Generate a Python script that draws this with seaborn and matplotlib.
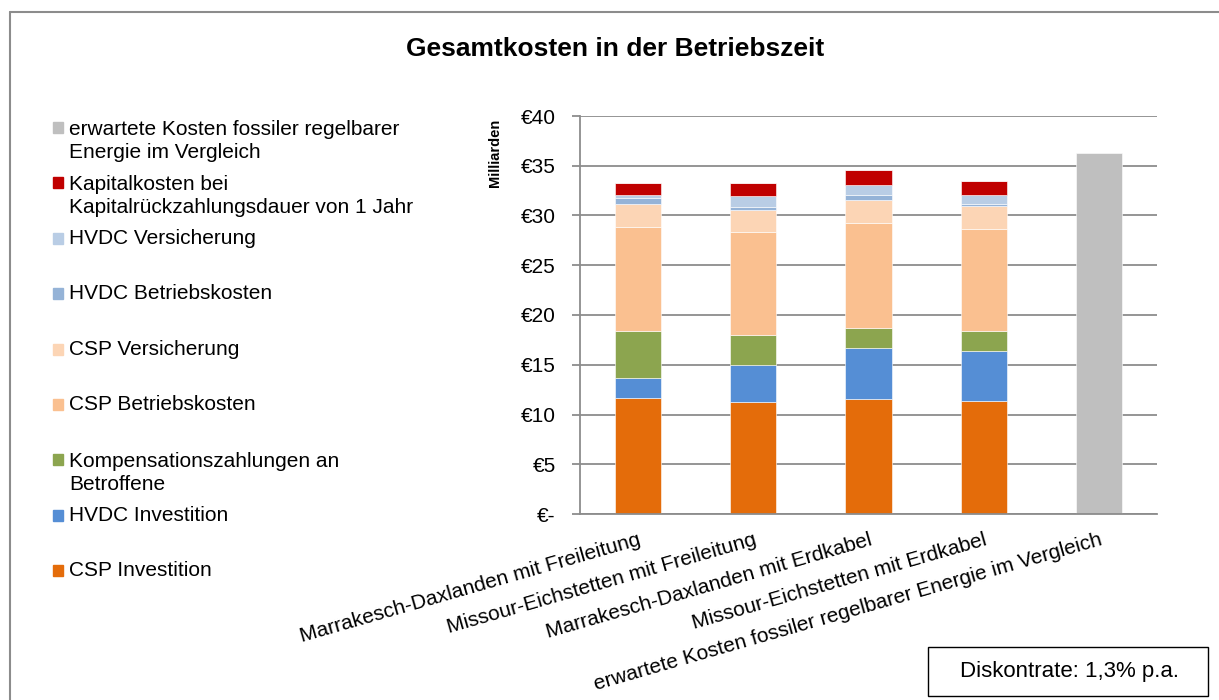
import numpy as np
import pandas as pd
import matplotlib.pyplot as plt
from matplotlib.lines import Line2D
from matplotlib.patches import Rectangle
import seaborn as sns

# categories on the x axis
categories = [
    "Marrakesch-Daxlanden mit Freileitung",
    "Missour-Eichstetten mit Freileitung",
    "Marrakesch-Daxlanden mit Erdkabel",
    "Missour-Eichstetten mit Erdkabel",
    "erwartete Kosten fossiler regelbarer Energie im Vergleich",
]

# cost components in Mrd. EUR (bottom -> top of the stack)
csp_investition = [11.7, 11.3, 11.6, 11.4, 0]
hvdc_investition = [2.0, 3.7, 5.1, 4.95, 0]
kompensation = [4.7, 3.0, 2.0, 2.05, 0]
csp_betrieb = [10.45, 10.35, 10.55, 10.25, 0]
csp_versicherung = [2.35, 2.25, 2.3, 2.3, 0]
hvdc_betrieb = [0.55, 0.25, 0.5, 0.2, 0]
hvdc_versicherung = [0.35, 1.1, 1.05, 0.9, 0]
kapitalkosten = [1.2, 1.3, 1.45, 1.45, 0]
fossil = [0, 0, 0, 0, 36.3]

series_names = [
    "CSP Investition",
    "HVDC Investition",
    "Kompensationszahlungen an\nBetroffene",
    "CSP Betriebskosten",
    "CSP Versicherung",
    "HVDC Betriebskosten",
    "HVDC Versicherung",
    "Kapitalkosten bei\nKapitalrückzahlungsdauer von 1 Jahr",
    "erwartete Kosten fossiler regelbarer\nEnergie im Vergleich",
]
series_values = [csp_investition, hvdc_investition, kompensation, csp_betrieb,
                 csp_versicherung, hvdc_betrieb, hvdc_versicherung,
                 kapitalkosten, fossil]
colors = ["#E46C0A", "#558ED5", "#8CA54F", "#FAC090", "#FCD5B5",
          "#95B3D7", "#B9CDE5", "#C00000", "#BFBFBF"]

sns.set_style("white")
plt.rcParams["font.family"] = ["Liberation Sans", "DejaVu Sans"]
plt.rcParams["text.color"] = "black"
plt.rcParams["xtick.labelcolor"] = "black"
plt.rcParams["ytick.labelcolor"] = "black"

fig = plt.figure(figsize=(12.19, 7), dpi=100)
ax = fig.add_axes([580 / 1219, 1 - 514 / 700, 577 / 1219, 398 / 700])

# stacked bars via seaborn, one layer at a time
bottom = np.zeros(len(categories))
for name, vals, col in zip(series_names, series_values, colors):
    df = pd.DataFrame({"Kategorie": categories, "Wert": vals})
    sns.barplot(data=df, x="Kategorie", y="Wert", order=categories,
                color=col, width=0.4, bottom=bottom, ax=ax,
                linewidth=0.4, edgecolor="white", saturation=1)
    bottom = bottom + np.array(vals)

ax.set_ylim(0, 40)
ax.set_xlim(-0.5, len(categories) - 0.5)
yt = np.arange(0, 41, 5)
ax.set_yticks(yt)
ax.set_yticklabels(["€-" if v == 0 else f"€{v}" for v in yt], fontsize=15)
ax.yaxis.grid(True, color="#8C8C8C", linewidth=1.3)
ax.set_axisbelow(True)
ax.set_xlabel("")
ax.set_ylabel("")

ax.set_xticks(range(len(categories)))
ax.set_xticklabels(categories, rotation=16, ha="right",
                   rotation_mode="anchor", fontsize=15)
ax.set_xticks(np.arange(-0.5, len(categories)), minor=True)
ax.tick_params(axis="x", which="major", length=0, pad=12)
ax.tick_params(axis="x", which="minor", length=6, width=1.3, color="#8C8C8C")
ax.tick_params(axis="y", length=6, width=1.3, color="#8C8C8C", left=True, pad=11.5)
for s in ["top", "right"]:
    ax.spines[s].set_visible(False)
for s in ["left", "bottom"]:
    ax.spines[s].set_color("#8C8C8C")
    ax.spines[s].set_linewidth(1.3)

fig.text(615 / 1219, 1 - 49 / 700, "Gesamtkosten in der Betriebszeit",
         ha="center", va="center", fontsize=19, fontweight="bold")
fig.text(495 / 1219, 1 - 153 / 700, "Milliarden", rotation=90,
         ha="center", va="center", fontsize=10.5, fontweight="bold")

# legend on the left, drawn top to bottom in reversed order
y0 = 133
for i, (name, col) in enumerate(zip(series_names[::-1], colors[::-1])):
    yb = y0 + i * 55.4
    fig.patches.append(Rectangle((53 / 1219, 1 - yb / 700), 10 / 1219, 11 / 700,
                                 transform=fig.transFigure, color=col))
    # baseline alignment refers to the last line of a multi-line label
    yl = yb + 25 * name.count("\n")
    fig.text(69 / 1219, 1 - yl / 700, name, ha="left", va="baseline",
             fontsize=15, linespacing=1.28)

# outer chart frame
fig.add_artist(Line2D([9.5 / 1219, 9.5 / 1219], [1 - 12 / 700, 0],
                      transform=fig.transFigure, color="#8C8C8C", linewidth=1.5))
fig.add_artist(Line2D([9.5 / 1219, 1], [1 - 12 / 700, 1 - 12 / 700],
                      transform=fig.transFigure, color="#8C8C8C", linewidth=1.5))

fig.text(1070 / 1219, 1 - 672 / 700, "Diskontrate: 1,3% p.a.", ha="center",
         va="center", fontsize=16)
fig.patches.append(Rectangle((928 / 1219, 1 - 696 / 700), 280 / 1219, 49 / 700,
                             transform=fig.transFigure, fill=False,
                             edgecolor="black", linewidth=1.0))

fig.savefig("out.png", dpi=100)
